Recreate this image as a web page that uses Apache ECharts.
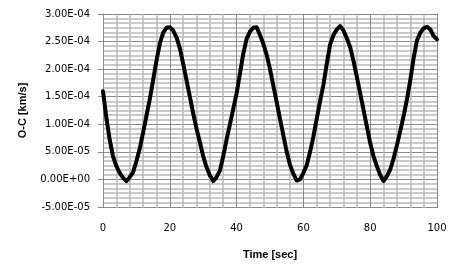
<!DOCTYPE html>
<html>
<head>
<meta charset="utf-8">
<script src="https://cdn.jsdelivr.net/npm/echarts@6/dist/echarts.min.js"></script>
<style>html,body{margin:0;padding:0;background:#fff;}#c{width:461px;height:265px;}</style>
</head>
<body>
<div id="c"></div>
<script>
const times = [0,1,2,3,4,5,6,7,8,9,10,11,12,13,14,15,16,17,18,19,20,21,22,23,24,25,26,27,28,29,30,31,32,33,34,35,36,37,38,39,40,41,42,43,44,45,46,47,48,49,50,51,52,53,54,55,56,57,58,59,60,61,62,63,64,65,66,67,68,69,70,71,72,73,74,75,76,77,78,79,80,81,82,83,84,85,86,87,88,89,90,91,92,93,94,95,96,97,98,99,100];
const ocValues = [
1.60e-4,1.12e-4,0.72e-4,0.42e-4,0.24e-4,0.12e-4,0.03e-4,-0.03e-4,0.04e-4,0.13e-4,
0.33e-4,0.56e-4,0.85e-4,1.15e-4,1.45e-4,1.80e-4,2.15e-4,2.46e-4,2.66e-4,2.75e-4,
2.76e-4,2.70e-4,2.58e-4,2.38e-4,2.10e-4,1.80e-4,1.50e-4,1.20e-4,0.92e-4,0.68e-4,
0.42e-4,0.22e-4,0.07e-4,-0.03e-4,0.04e-4,0.16e-4,0.42e-4,0.72e-4,1.00e-4,1.28e-4,
1.56e-4,1.92e-4,2.28e-4,2.55e-4,2.68e-4,2.75e-4,2.76e-4,2.62e-4,2.46e-4,2.26e-4,
2.00e-4,1.70e-4,1.40e-4,1.10e-4,0.80e-4,0.50e-4,0.26e-4,0.10e-4,-0.02e-4,0.00e-4,
0.12e-4,0.26e-4,0.50e-4,0.78e-4,1.10e-4,1.42e-4,1.72e-4,2.10e-4,2.45e-4,2.62e-4,
2.72e-4,2.78e-4,2.70e-4,2.56e-4,2.40e-4,2.15e-4,1.86e-4,1.56e-4,1.26e-4,0.96e-4,
0.66e-4,0.42e-4,0.24e-4,0.08e-4,-0.03e-4,0.06e-4,0.18e-4,0.38e-4,0.62e-4,0.88e-4,
1.15e-4,1.45e-4,1.80e-4,2.20e-4,2.52e-4,2.66e-4,2.74e-4,2.77e-4,2.72e-4,2.60e-4,
2.54e-4];
const xTicks = [0,20,40,60,80,100];
const yMin = -5e-5, yMax = 3e-4, yStep = 5e-5;
const xTitle = 'Time [sec]';
const yTitle = 'O-C [km/s]';

// display unit: 1e-5 km/s (keeps tick arithmetic clean)
const U = 1e5;
const toU = v => Math.round(v * U * 1000) / 1000;

function fmtE(vu){
  const v = vu / U;
  const s = v.toExponential(2);
  const m = s.split('e');
  let exp = parseInt(m[1],10);
  const sign = exp < 0 ? '-' : '+';
  exp = Math.abs(exp);
  return m[0] + 'E' + sign + (exp < 10 ? '0' + exp : String(exp));
}

// plot box (styling only)
const G = {left:103, right:24, top:14, bottom:57};
const W = 461, H = 265;
const plotW = W - G.left - G.right;
const plotH = H - G.top - G.bottom;
const majorColor = '#8a8a8a', minorColor = '#b8b8b8';

const chart = echarts.init(document.getElementById('c'), null, {renderer:'canvas'});
chart.setOption({
  animation:false,
  backgroundColor:'#fff',
  grid:G,
  xAxis:[{
    type:'value', position:'bottom', min:xTicks[0], max:xTicks[xTicks.length-1], interval:20,
    name:xTitle, nameLocation:'middle', nameGap:42,
    nameTextStyle:{fontFamily:'Liberation Sans', fontWeight:'bold', fontSize:11, color:'#000'},
    axisLine:{show:true, onZero:false, lineStyle:{color:majorColor}},
    axisTick:{show:false},
    axisLabel:{margin:16, fontFamily:'DejaVu Sans', fontSize:10, color:'#000'},
    splitLine:{show:false}
  },{
    // top edge + vertical grid lines
    type:'value', position:'top', min:xTicks[0], max:xTicks[xTicks.length-1], interval:20,
    axisLine:{show:true, onZero:false, lineStyle:{color:majorColor}},
    axisTick:{show:true, inside:true, length:plotH, lineStyle:{color:majorColor, width:1}},
    minorTick:{show:true, splitNumber:5, length:plotH, lineStyle:{color:minorColor, width:1.5}},
    axisLabel:{show:false}, splitLine:{show:false}
  }],
  yAxis:[{
    type:'value', position:'left', min:toU(yMin), max:toU(yMax), interval:toU(yStep),
    name:yTitle, nameLocation:'middle', nameGap:75,
    nameTextStyle:{fontFamily:'Liberation Sans', fontWeight:'bold', fontSize:11, color:'#000'},
    axisLine:{show:true, onZero:false, lineStyle:{color:majorColor}},
    axisTick:{show:true, length:5, lineStyle:{color:majorColor}},
    axisLabel:{margin:13, fontFamily:'DejaVu Sans', fontSize:10, color:'#000', formatter:fmtE},
    splitLine:{show:false}
  },{
    // right edge + horizontal grid lines
    type:'value', position:'right', min:toU(yMin), max:toU(yMax), interval:toU(yStep),
    axisLine:{show:true, onZero:false, lineStyle:{color:majorColor}},
    axisTick:{show:true, inside:true, length:plotW, lineStyle:{color:majorColor, width:1}},
    minorTick:{show:true, splitNumber:6, length:plotW, lineStyle:{color:minorColor, width:1.5}},
    axisLabel:{show:false}, splitLine:{show:false}
  }],
  series:[{
    type:'line',
    xAxisIndex:0, yAxisIndex:0,
    data: times.map((t,i)=>[t, toU(ocValues[i])]),
    showSymbol:false,
    lineStyle:{color:'#000', width:4, join:'round', cap:'round'},
    z:5
  }]
});
</script>
</body>
</html>
